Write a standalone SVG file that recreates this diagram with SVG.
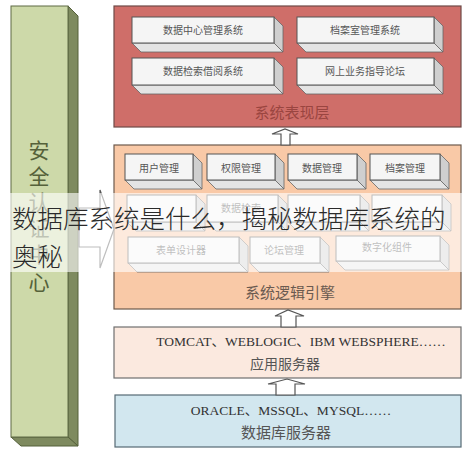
<svg xmlns="http://www.w3.org/2000/svg" width="467" height="452" viewBox="0 0 467 452">
<style>
.cjk{font-family:"Noto Sans CJK SC","Noto Sans",sans-serif}
.ser{font-family:"Liberation Serif","Noto Sans CJK SC",serif}
.front{fill:#f5f5f5;stroke:#555;stroke-width:1}
.side{fill:#cfcfcf;stroke:#666;stroke-width:0.8}
.bot{fill:#e4e4e4;stroke:#666;stroke-width:0.8}
.lbl{font-size:10px;fill:#555;text-anchor:middle}
.arrow{fill:#fff;stroke:#555;stroke-width:1.2}
</style>
<rect width="467" height="452" fill="#fff"/>

<g id="pillar">
<polygon points="68,6 78,16 78,446 68,437" fill="#7e8a5f" stroke="#55603a" stroke-width="1"/>
<polygon points="11,437 68,437 78,446 21,446" fill="#7e8a5f" stroke="#55603a" stroke-width="1"/>
<rect x="11" y="6" width="57" height="431" fill="#cdd9a9" stroke="#5f6b45" stroke-width="1"/>
<g class="cjk" font-size="21" fill="#55613a" text-anchor="middle">
<text x="39" y="158">安</text>
<text x="39" y="184">全</text>
<text x="39" y="210">认</text>
<text x="39" y="236">证</text>
<text x="39" y="262">中</text>
<text x="39" y="290">心</text>
</g>
</g>

<g id="presentation">
<rect x="114" y="6" width="347" height="121" fill="#cf6e69" stroke="#6e4a46" stroke-width="1.2"/>
<g id="p1"><polygon class="side" points="274,17 283,26 283,52 274,43"/><polygon class="bot" points="132,43 274,43 283,52 141,52"/><rect class="front" x="132" y="17" width="142" height="26"/><text class="cjk lbl" x="203" y="34">数据中心管理系统</text></g>
<g id="p2"><polygon class="side" points="434,17 443,26 443,52 434,43"/><polygon class="bot" points="297,43 434,43 443,52 306,52"/><rect class="front" x="297" y="17" width="137" height="26"/><text class="cjk lbl" x="365" y="34">档案室管理系统</text></g>
<g id="p3"><polygon class="side" points="274,58 283,67 283,94 274,85"/><polygon class="bot" points="132,85 274,85 283,94 141,94"/><rect class="front" x="132" y="58" width="142" height="27"/><text class="cjk lbl" x="203" y="75">数据检索借阅系统</text></g>
<g id="p4"><polygon class="side" points="434,58 443,67 443,94 434,85"/><polygon class="bot" points="297,85 434,85 443,94 306,94"/><rect class="front" x="297" y="58" width="137" height="27"/><text class="cjk lbl" x="365" y="75">网上业务指导论坛</text></g>
<text class="cjk" x="292" y="118" font-size="15" fill="#9a4540" text-anchor="middle">系统表现层</text>
</g>

<g id="engine">
<rect x="114" y="145" width="347" height="164" fill="#f9c9a7" stroke="#6d5a4c" stroke-width="1.2"/>
<g id="e1"><polygon class="side" points="193,154 202,163 202,189 193,180"/><polygon class="bot" points="125,180 193,180 202,189 134,189"/><rect class="front" x="125" y="154" width="68" height="26"/><text class="cjk lbl" x="159" y="172">用户管理</text></g>
<g id="e2"><polygon class="side" points="275,154 284,163 284,189 275,180"/><polygon class="bot" points="207,180 275,180 284,189 216,189"/><rect class="front" x="207" y="154" width="68" height="26"/><text class="cjk lbl" x="241" y="172">权限管理</text></g>
<g id="e3"><polygon class="side" points="357,154 366,163 366,189 357,180"/><polygon class="bot" points="288,180 357,180 366,189 297,189"/><rect class="front" x="288" y="154" width="69" height="26"/><text class="cjk lbl" x="322" y="172">数据管理</text></g>
<g id="e4"><polygon class="side" points="440,154 449,163 449,189 440,180"/><polygon class="bot" points="370,180 440,180 449,189 379,189"/><rect class="front" x="370" y="154" width="70" height="26"/><text class="cjk lbl" x="405" y="172">档案管理</text></g>
<g id="e5"><polygon class="side" points="196,195 205,204 205,231 196,222"/><polygon class="bot" points="127,222 196,222 205,231 136,231"/><rect class="front" x="127" y="195" width="69" height="27"/></g>
<g id="e6"><polygon class="side" points="278,195 287,204 287,231 278,222"/><polygon class="bot" points="207,222 278,222 287,231 216,231"/><rect class="front" x="207" y="195" width="71" height="27"/><text class="cjk lbl" x="241" y="212">数据检索</text></g>
<g id="e7"><polygon class="side" points="360,195 369,204 369,231 360,222"/><polygon class="bot" points="288,222 360,222 369,231 297,231"/><rect class="front" x="288" y="195" width="72" height="27"/></g>
<g id="e8"><polygon class="side" points="442,195 451,204 451,231 442,222"/><polygon class="bot" points="372,222 442,222 451,231 381,231"/><rect class="front" x="372" y="195" width="70" height="27"/></g>
<g id="e9"><polygon class="side" points="239,237 248,246 248,272 239,263"/><polygon class="bot" points="128,263 239,263 248,272 137,272"/><rect class="front" x="128" y="237" width="111" height="26"/><text class="cjk lbl" x="181" y="254">表单设计器</text></g>
<g id="e10"><polygon class="side" points="320,237 329,246 329,272 320,263"/><polygon class="bot" points="250,263 320,263 329,272 259,272"/><rect class="front" x="250" y="237" width="70" height="26"/><text class="cjk lbl" x="284" y="254">论坛管理</text></g>
<g id="e11"><polygon class="side" points="440,236 449,245 449,270 440,261"/><polygon class="bot" points="336,261 440,261 449,270 345,270"/><rect class="front" x="336" y="236" width="104" height="25"/><text class="cjk lbl" x="387" y="251">数字化组件</text></g>
<text class="cjk" x="290" y="298" font-size="15" fill="#6a5a50" text-anchor="middle">系统逻辑引擎</text>
</g>

<g id="appserver">
<rect x="114" y="327" width="347" height="51" fill="#fbe9df" stroke="#6f6f6f" stroke-width="1.2"/>
<text class="ser" x="301" y="346" font-size="13.5" fill="#333" text-anchor="middle">TOMCAT、WEBLOGIC、IBM WEBSPHERE……</text>
<text class="cjk" x="285" y="369" font-size="14" fill="#555" text-anchor="middle">应用服务器</text>
</g>

<g id="dbserver">
<rect x="115" y="395" width="346" height="52" fill="#d2e7ef" stroke="#566a74" stroke-width="1.2"/>
<text class="ser" x="291" y="415" font-size="13.5" fill="#333" text-anchor="middle">ORACLE、MSSQL、MYSQL……</text>
<text class="cjk" x="286" y="438" font-size="15" fill="#555" text-anchor="middle">数据库服务器</text>
</g>

<g id="connectors">
<polygon class="arrow" points="281,145 281,134 272,134 285,129 298,134 290,134 290,145"/>
<polygon class="arrow" points="281,327 281,316 275,316 288,310 304,316 296,316 296,327"/>
<polygon class="arrow" points="276,395 276,384 268,384 287,379 305,384 295,384 295,395"/>
<polygon class="arrow" points="79,208 100,208 100,190 114,229 100,268 100,247 79,247"/>
</g>

<g id="overlay">
<rect x="0" y="193" width="467" height="79" fill="#fff" fill-opacity="0.62"/>
<text class="cjk" x="12" y="228" font-size="25.5" font-weight="300" fill="#2a2a2a">数据库系统是什么，揭秘数据库系统的</text>
<text class="cjk" x="12" y="266" font-size="25.5" font-weight="300" fill="#2a2a2a">奥秘</text>
</g>
</svg>
